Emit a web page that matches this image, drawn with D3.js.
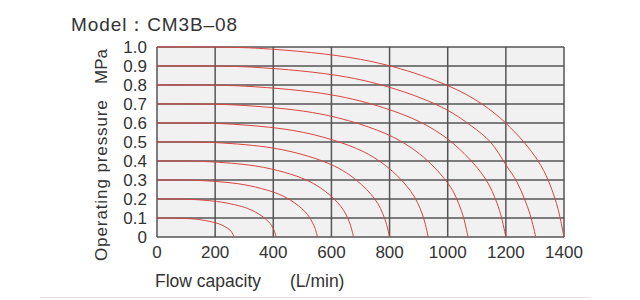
<!DOCTYPE html>
<html>
<head>
<meta charset="utf-8">
<script src="https://cdn.jsdelivr.net/npm/d3@7"></script>
<style>
  body { margin: 0; background: #fff; }
  text { font-family: "Liberation Sans", Arial, Helvetica, sans-serif; fill: #333; }
</style>
</head>
<body>
<svg width="640" height="300"></svg>
<script>
// tick values of both axes
var flowTicks = [0, 200, 400, 600, 800, 1000, 1200, 1400];
var pressureTicks = [0, 0.1, 0.2, 0.3, 0.4, 0.5, 0.6, 0.7, 0.8, 0.9, 1.0];

// one curve per set pressure, points as [flow L/min, pressure MPa]
var curve01 = [[0, 0.1], [66, 0.099], [133, 0.094], [172, 0.085], [201, 0.075], [220, 0.065], [233, 0.055], [244, 0.045], [252, 0.035], [257, 0.025], [261, 0.015], [265, 0]];
var curve02 = [[0, 0.2], [103, 0.199], [205, 0.187], [267, 0.17], [312, 0.15], [340, 0.13], [361, 0.11], [377, 0.09], [390, 0.07], [398, 0.05], [404, 0.03], [410, 0]];
var curve03 = [[0, 0.3], [138, 0.298], [276, 0.281], [359, 0.255], [420, 0.225], [458, 0.195], [486, 0.165], [508, 0.135], [524, 0.105], [535, 0.075], [544, 0.045], [552, 0]];
var curve04 = [[0, 0.4], [169, 0.397], [338, 0.374], [439, 0.34], [514, 0.3], [561, 0.26], [595, 0.22], [622, 0.18], [642, 0.14], [656, 0.1], [666, 0.06], [676, 0]];
var curve05 = [[0, 0.5], [200, 0.497], [400, 0.468], [520, 0.425], [608, 0.375], [664, 0.325], [704, 0.275], [736, 0.225], [760, 0.175], [776, 0.125], [788, 0.075], [800, 0]];
var curve06 = [[0, 0.6], [233, 0.596], [467, 0.561], [606, 0.51], [709, 0.45], [774, 0.39], [821, 0.33], [858, 0.27], [886, 0.21], [905, 0.15], [919, 0.09], [933, 0]];
var curve07 = [[0, 0.7], [268, 0.695], [535, 0.655], [696, 0.595], [813, 0.525], [888, 0.455], [942, 0.385], [984, 0.315], [1017, 0.245], [1038, 0.175], [1054, 0.105], [1070, 0]];
var curve08 = [[0, 0.8], [300, 0.794], [600, 0.748], [780, 0.68], [912, 0.6], [996, 0.52], [1056, 0.44], [1104, 0.36], [1140, 0.28], [1164, 0.2], [1182, 0.12], [1200, 0]];
var curve09 = [[0, 0.9], [326, 0.894], [652, 0.842], [847, 0.765], [990, 0.675], [1081, 0.585], [1147, 0.5], [1200, 0.38], [1238, 0.29], [1264, 0.2], [1283, 0.12], [1303, 0]];
var curve10 = [[0, 1.0], [350, 0.993], [700, 0.935], [910, 0.85], [1064, 0.75], [1162, 0.65], [1232, 0.55], [1288, 0.45], [1330, 0.35], [1358, 0.25], [1379, 0.15], [1400, 0]];

var curves = [curve01, curve02, curve03, curve04, curve05, curve06, curve07, curve08, curve09, curve10];

var svg = d3.select("svg");

var x = d3.scaleLinear().domain([0, 1400]).range([157, 564]),
    y = d3.scaleLinear().domain([0, 1]).range([237, 47]);

// title
svg.append("text")
    .attr("x", 71)
    .attr("y", 31)
    .style("font-size", "19px")
    .style("letter-spacing", "0.9px")
    .text("Model：CM3B–08");

// plot background
svg.append("rect")
    .attr("x", x(0))
    .attr("y", y(1))
    .attr("width", x(1400) - x(0))
    .attr("height", y(0) - y(1))
    .attr("fill", "#f1f1f1");

// grid
var grid = svg.append("g")
    .attr("stroke", "#555")
    .attr("stroke-width", 1.5)
    .attr("fill", "none");

grid.selectAll("line.v")
    .data(flowTicks)
    .enter().append("line")
    .attr("class", "v")
    .attr("x1", function(d) { return x(d); })
    .attr("x2", function(d) { return x(d); })
    .attr("y1", y(1))
    .attr("y2", y(0));

grid.selectAll("line.h")
    .data(pressureTicks)
    .enter().append("line")
    .attr("class", "h")
    .attr("x1", x(0))
    .attr("x2", x(1400))
    .attr("y1", function(d) { return y(d); })
    .attr("y2", function(d) { return y(d); });

// curves
var line = d3.line()
    .x(function(d) { return x(d[0]); })
    .y(function(d) { return y(d[1]); })
    .curve(d3.curveCatmullRom.alpha(0.5));

svg.append("g").selectAll("path")
    .data(curves)
    .enter().append("path")
    .attr("d", line)
    .attr("fill", "none")
    .attr("stroke", "#d8453f")
    .attr("stroke-width", 1);

// tick labels
svg.append("g").selectAll("text")
    .data(pressureTicks)
    .enter().append("text")
    .attr("x", 147)
    .attr("y", function(d) { return y(d); })
    .attr("dy", "0.36em")
    .attr("text-anchor", "end")
    .style("font-size", "17px")
    .text(function(d) { return d === 0 ? "0" : d.toFixed(1); });

svg.append("g").selectAll("text")
    .data(flowTicks)
    .enter().append("text")
    .attr("x", function(d) { return x(d); })
    .attr("y", 258)
    .attr("text-anchor", "middle")
    .style("font-size", "17px")
    .text(function(d) { return d; });

// axis titles
svg.append("text")
    .attr("transform", "translate(107,261) rotate(-90)")
    .style("font-size", "17px")
    .style("letter-spacing", "0.9px")
    .text("Operating  pressure");

svg.append("text")
    .attr("transform", "translate(107,84) rotate(-90)")
    .style("font-size", "17px")
    .text("MPa");

svg.append("text")
    .attr("x", 155)
    .attr("y", 287)
    .style("font-size", "17.5px")
    .text("Flow capacity");

svg.append("text")
    .attr("x", 290)
    .attr("y", 287)
    .style("font-size", "17.5px")
    .text("(L/min)");

// bottom rule
svg.append("line")
    .attr("x1", 40)
    .attr("x2", 591)
    .attr("y1", 297.5)
    .attr("y2", 297.5)
    .attr("stroke", "#e2e2e2");
</script>
</body>
</html>
